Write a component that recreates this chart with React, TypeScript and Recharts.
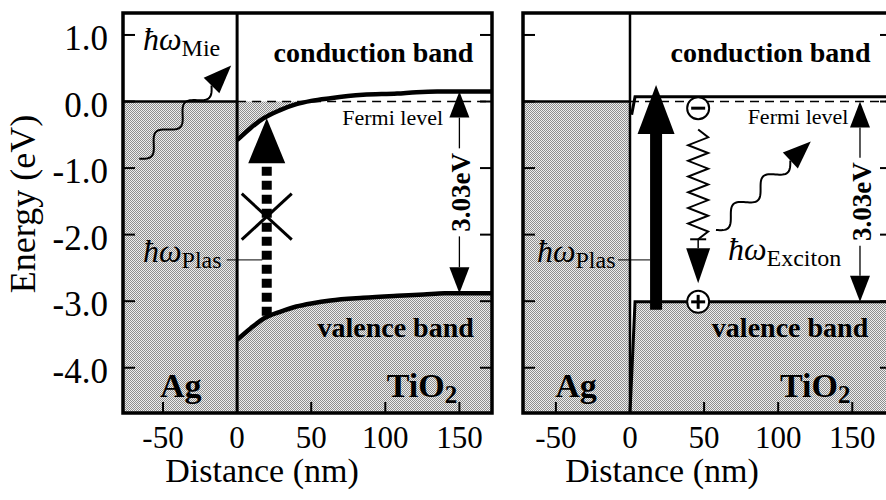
import React from 'react'
import {
  ComposedChart, XAxis, YAxis, Area, Line, ReferenceArea, ReferenceLine, ReferenceDot,
} from 'recharts'

const SERIF = 'Liberation Serif'
const INK = '#000'
const GRAY = 'url(#halftone)'

const ENERGY_TICKS = [1, 0, -1, -2, -3, -4]
const DISTANCE_TICKS = [-50, 0, 50, 100, 150]
const E_MIN = -4.68
const E_MAX = 1.33
const LEFT_RANGE = [-77, 172]
const RIGHT_RANGE = [-72.2, 176.8]

// left panel: TiO2 bands bent at the Ag contact (eV vs nm)
const LEFT_CB = [
  { x: 0, e: -0.58 }, { x: 9, e: -0.4 }, { x: 18, e: -0.25 }, { x: 29, e: -0.13 },
  { x: 40, e: -0.04 }, { x: 50, e: 0.01 }, { x: 63, e: 0.05 }, { x: 85, e: 0.1 },
  { x: 108, e: 0.12 }, { x: 121, e: 0.14 }, { x: 135, e: 0.15 }, { x: 172, e: 0.15 },
]
const LEFT_VB = [
  { x: 0, e: -3.58 }, { x: 9, e: -3.41 }, { x: 18, e: -3.26 }, { x: 29, e: -3.16 },
  { x: 40, e: -3.08 }, { x: 51, e: -3.03 }, { x: 63, e: -2.99 }, { x: 85, e: -2.95 },
  { x: 108, e: -2.92 }, { x: 126, e: -2.9 }, { x: 140, e: -2.88 }, { x: 172, e: -2.88 },
]
// part of the bent conduction band lying under the Fermi level
const LEFT_CB_FILLED = [
  { x: 0, band: [-0.58, 0] }, { x: 9, band: [-0.4, 0] }, { x: 18, band: [-0.25, 0] },
  { x: 29, band: [-0.13, 0] }, { x: 40, band: [-0.04, 0] }, { x: 48, band: [0, 0] },
]
// right panel: flat bands
const RIGHT_CB = [{ x: 1.1, e: -0.2 }, { x: 3.4, e: 0.07 }, { x: 176.8, e: 0.07 }]
const RIGHT_VB = [{ x: 0, e: -4.68 }, { x: 3.4, e: -3.01 }, { x: 176.8, e: -3.01 }]

const font = (size: number, extra: React.CSSProperties = {}) => ({ fontFamily: SERIF, fontSize: size, ...extra })

function XTick(props: any) {
  const { x, y, payload } = props
  return (
    <g>
      <line x1={x} x2={x} y1={y} y2={y - 11} stroke={INK} strokeWidth={2} />
      <text x={x} y={y + 35} textAnchor="middle" style={font(31)} fill={INK}>
        {payload.value}
      </text>
    </g>
  )
}

function YTick(props: any) {
  const { x, y, payload, side, labels } = props
  const dir = side === 'left' ? 1 : -1
  return (
    <g>
      <line x1={x} x2={x + dir * 12} y1={y} y2={y} stroke={INK} strokeWidth={2} />
      {labels && (
        <text x={x - 15} y={y + 15} textAnchor="end" style={font(35)} fill={INK}>
          {Number(payload.value).toFixed(1)}
        </text>
      )}
    </g>
  )
}

const energyTitle = (p: any) => {
  const vb = p.viewBox ?? { x: 0, y: 13, width: 123, height: 400 }
  return (
    <text transform={`translate(${vb.x + 35} ${vb.y + vb.height / 2 - 9}) rotate(-90)`}
      textAnchor="middle" style={font(36)} fill={INK}>Energy (eV)</text>
  )
}

const distanceTitle = (p: any) => {
  const vb = p.viewBox ?? { x: 123, y: 413, width: 369, height: 87 }
  return (
    <text x={vb.x + 139} y={vb.y + 69} textAnchor="middle" style={font(34)} fill={INK}>
      Distance (nm)
    </text>
  )
}

// halftone fill used for the filled states
const halftoneDefs = () => (
  <defs>
    <pattern id="halftone" width="2" height="2" patternUnits="userSpaceOnUse">
      <rect width="2" height="2" fill="#eeeeee" />
      <rect x="0" y="0" width="1" height="1" fill="#8e8e8e" />
      <rect x="1" y="1" width="1" height="1" fill="#8e8e8e" />
    </pattern>
  </defs>
)

// vertical arrow, tip at the second point of the segment
const arrowShape = (shaft: number, headL: number, headW: number, dash?: string) => (p: any) => {
  const { x1, y1, x2, y2 } = p
  const dir = y2 < y1 ? 1 : -1
  const baseY = y2 + dir * headL
  return (
    <g>
      <line x1={x1} y1={y1} x2={x1} y2={baseY} stroke={INK} strokeWidth={shaft} strokeDasharray={dash} />
      <polygon points={`${x2},${y2} ${x2 - headW / 2},${baseY} ${x2 + headW / 2},${baseY}`} fill={INK} />
    </g>
  )
}

// double headed gap arrow with rotated label in the middle
const gapArrowShape = (label: string) => (p: any) => {
  const { x1, y1, y2 } = p
  const mid = (y1 + y2) / 2
  const hl = 26
  const hw = 10
  return (
    <g>
      <line x1={x1} x2={x1} y1={y2 + hl} y2={mid - 44} stroke={INK} strokeWidth={1.3} />
      <line x1={x1} x2={x1} y1={mid + 44} y2={y1 - hl} stroke={INK} strokeWidth={1.3} />
      <polygon points={`${x1},${y2} ${x1 - hw},${y2 + hl} ${x1 + hw},${y2 + hl}`} fill={INK} />
      <polygon points={`${x1},${y1} ${x1 - hw},${y1 - hl} ${x1 + hw},${y1 - hl}`} fill={INK} />
      <text transform={`translate(${x1 + 2} ${mid}) rotate(-90)`} textAnchor="middle" dominantBaseline="central"
        style={font(27, { fontWeight: 'bold' })} fill={INK}>{label}</text>
    </g>
  )
}

// photon: wavy line ending in an arrow head
const wavyShape = (periods: number, amp: number) => (p: any) => {
  const { x1, y1, x2, y2 } = p
  const headL = 28
  const headW = 22
  const dx = x2 - x1
  const dy = y2 - y1
  const len = Math.hypot(dx, dy)
  const ux = dx / len
  const uy = dy / len
  const nx = -uy
  const ny = ux
  const run = len - headL
  let d = ''
  for (let i = 0; i <= 80; i++) {
    const t = (i / 80) * run
    const off = amp * Math.sin((2 * Math.PI * periods * t) / run)
    d += `${i ? 'L' : 'M'}${x1 + ux * t + nx * off},${y1 + uy * t + ny * off}`
  }
  const bx = x2 - ux * headL
  const by = y2 - uy * headL
  return (
    <g>
      <path d={d} fill="none" stroke={INK} strokeWidth={2} />
      <polygon fill={INK} points={`${x2},${y2} ${bx + (nx * headW) / 2},${by + (ny * headW) / 2} ${bx - (nx * headW) / 2},${by - (ny * headW) / 2}`} />
    </g>
  )
}

// phonon relaxation: zigzag ending in a short bar
const zigzagShape = (teeth: number, amp: number) => (p: any) => {
  const { x1, y1, y2 } = p
  const n = teeth * 2
  let d = ''
  for (let i = 0; i <= n; i++) {
    const y = y1 + ((y2 - y1) * i) / n
    const x = i === 0 || i === n ? x1 : x1 + (i % 2 ? amp : -amp)
    d += `${i ? 'L' : 'M'}${x},${y}`
  }
  return (
    <g>
      <path d={d} fill="none" stroke={INK} strokeWidth={2} />
      <line x1={x1 - 8} x2={x1 + 8} y1={y2} y2={y2} stroke={INK} strokeWidth={2} />
    </g>
  )
}

const crossShape = (p: any) => {
  const { cx, cy } = p
  return (
    <g stroke={INK} strokeWidth={3}>
      <line x1={cx - 25} y1={cy - 23} x2={cx + 25} y2={cy + 23} />
      <line x1={cx - 25} y1={cy + 23} x2={cx + 25} y2={cy - 23} />
    </g>
  )
}

const chargeShape = (plus: boolean) => (p: any) => {
  const { cx, cy } = p
  return (
    <g>
      <circle cx={cx} cy={cy} r={11} fill="#fff" stroke={INK} strokeWidth={2} />
      <line x1={cx - 7} x2={cx + 7} y1={cy} y2={cy} stroke={INK} strokeWidth={3} />
      {plus && <line x1={cx} x2={cx} y1={cy - 7} y2={cy + 7} stroke={INK} strokeWidth={3} />}
    </g>
  )
}

const textShape = (content: React.ReactNode, anchor = 'middle', size = 28, bold = true) => (p: any) => (
  <text x={p.cx} y={p.cy} textAnchor={anchor} fill={INK}
    style={font(size, { fontWeight: bold ? 'bold' : 'normal' })}>{content}</text>
)

const hbar = (sub: string) => (
  <>
    <tspan style={{ fontStyle: 'italic', fontSize: 32 }}>ħω</tspan>
    <tspan style={{ fontSize: 24 }} dy={6}>{sub}</tspan>
  </>
)
const tio2 = (
  <>
    <tspan>TiO</tspan>
    <tspan style={{ fontSize: 25 }} dy={6}>2</tspan>
  </>
)

function axes(range: number[], yLabels: boolean) {
  return [
    <XAxis key="x" type="number" dataKey="x" domain={range} ticks={DISTANCE_TICKS} interval={0}
      allowDataOverflow tickSize={0} tickMargin={0} axisLine={false} tickLine={false}
      tick={<XTick />} height={87} label={distanceTitle} />,
    <YAxis key="yl" type="number" domain={[E_MIN, E_MAX]} ticks={ENERGY_TICKS} interval={0}
      allowDataOverflow tickSize={0} tickMargin={0} axisLine={false} tickLine={false}
      tick={<YTick side="left" labels={yLabels} />} width={yLabels ? 123 : 23}
      label={yLabels ? energyTitle : undefined} />,
    <YAxis key="yr" yAxisId="r" orientation="right" type="number" domain={[E_MIN, E_MAX]}
      ticks={ENERGY_TICKS} interval={0} allowDataOverflow tickSize={0} tickMargin={0}
      axisLine={false} tickLine={false} tick={<YTick side="right" />} width={8} />,
  ]
}

function LeftPanel() {
  return (
    <ComposedChart width={500} height={500} margin={{ top: 13, right: 0, bottom: 0, left: 0 }}>
      {axes(LEFT_RANGE, true)}
      <ReferenceDot x={0} y={0} shape={halftoneDefs} />
      <ReferenceArea x1={LEFT_RANGE[0]} x2={0} y1={E_MIN} y2={0} fill={GRAY} fillOpacity={1} stroke="none" />
      <Area data={LEFT_VB} dataKey="e" type="monotone" baseValue={E_MIN} fill={GRAY} fillOpacity={1}
        stroke="none" dot={false} activeDot={false} isAnimationActive={false} />
      <Area data={LEFT_CB_FILLED} dataKey="band" type="monotone" fill={GRAY} fillOpacity={1}
        stroke="none" dot={false} activeDot={false} isAnimationActive={false} />
      <ReferenceLine segment={[{ x: 0, y: 0 }, { x: LEFT_RANGE[1], y: 0 }]} stroke={INK} strokeWidth={1.6} strokeDasharray="9 6" />
      <ReferenceLine segment={[{ x: LEFT_RANGE[0], y: 0 }, { x: 0, y: 0 }]} stroke={INK} strokeWidth={2.5} />
      <Line data={LEFT_CB} dataKey="e" type="monotone" stroke={INK} strokeWidth={4.5} dot={false}
        activeDot={false} isAnimationActive={false} />
      <Line data={LEFT_VB} dataKey="e" type="monotone" stroke={INK} strokeWidth={4.5} dot={false}
        activeDot={false} isAnimationActive={false} />
      <ReferenceLine x={0} stroke={INK} strokeWidth={3} />

      <ReferenceLine segment={[{ x: 20, y: -3.22 }, { x: 20, y: -0.25 }]} shape={arrowShape(10, 45, 37, '9 5')} />
      <ReferenceDot x={20} y={-1.73} shape={crossShape} />
      <ReferenceLine segment={[{ x: -7, y: -2.38 }, { x: 17, y: -2.38 }]} stroke={INK} strokeWidth={1} />
      <ReferenceLine segment={[{ x: -66, y: -0.86 }, { x: -4, y: 0.54 }]} shape={wavyShape(2.5, 7)} />
      <ReferenceLine segment={[{ x: 150, y: -2.88 }, { x: 150, y: 0.15 }]} shape={gapArrowShape('3.03eV')} />

      <ReferenceDot x={-63.5} y={0.77} shape={textShape(hbar('Mie'), 'start', 32, false)} />
      <ReferenceDot x={-63.5} y={-2.41} shape={textShape(hbar('Plas'), 'start', 32, false)} />
      <ReferenceDot x={92} y={0.59} shape={textShape('conduction band')} />
      <ReferenceDot x={105} y={-0.35} shape={textShape('Fermi level', 'middle', 22, false)} />
      <ReferenceDot x={107} y={-3.54} shape={textShape('valence band')} />
      <ReferenceDot x={-38} y={-4.44} shape={textShape('Ag', 'middle', 34)} />
      <ReferenceDot x={101} y={-4.44} shape={textShape(tio2, 'start', 34)} />

      <ReferenceArea x1={LEFT_RANGE[0]} x2={LEFT_RANGE[1]} y1={E_MIN} y2={E_MAX} fill="none" stroke={INK} strokeWidth={3.5} />
    </ComposedChart>
  )
}

function RightPanel() {
  return (
    <ComposedChart width={400} height={500} margin={{ top: 13, right: 0, bottom: 0, left: 0 }}>
      {axes(RIGHT_RANGE, false)}
      <ReferenceArea x1={RIGHT_RANGE[0]} x2={0} y1={E_MIN} y2={0} fill={GRAY} fillOpacity={1} stroke="none" />
      <Area data={RIGHT_VB} dataKey="e" type="linear" baseValue={E_MIN} fill={GRAY} fillOpacity={1}
        stroke="none" dot={false} activeDot={false} isAnimationActive={false} />
      <ReferenceLine segment={[{ x: 0, y: 0 }, { x: RIGHT_RANGE[1], y: 0 }]} stroke={INK} strokeWidth={1.6} strokeDasharray="9 6" />
      <ReferenceLine segment={[{ x: RIGHT_RANGE[0], y: 0 }, { x: 0, y: 0 }]} stroke={INK} strokeWidth={2.5} />
      <Line data={RIGHT_CB} dataKey="e" type="linear" stroke={INK} strokeWidth={3} dot={false}
        activeDot={false} isAnimationActive={false} />
      <Line data={RIGHT_VB} dataKey="e" type="linear" stroke={INK} strokeWidth={3} dot={false}
        activeDot={false} isAnimationActive={false} />
      <ReferenceLine x={0} stroke={INK} strokeWidth={2.5} />

      <ReferenceLine segment={[{ x: 17.6, y: -3.13 }, { x: 17.6, y: 0.25 }]} shape={arrowShape(12, 49, 37)} />
      <ReferenceLine segment={[{ x: -8, y: -2.38 }, { x: 13.5, y: -2.38 }]} stroke={INK} strokeWidth={1} />
      <ReferenceLine segment={[{ x: 46, y: -0.42 }, { x: 46, y: -2.07 }]} shape={zigzagShape(7, 10)} />
      <ReferenceLine segment={[{ x: 46, y: -2.07 }, { x: 46, y: -2.73 }]} shape={arrowShape(1.5, 35, 24)} />
      <ReferenceLine segment={[{ x: 58, y: -1.93 }, { x: 122, y: -0.6 }]} shape={wavyShape(2.5, 7)} />
      <ReferenceLine segment={[{ x: 155.2, y: -3.01 }, { x: 155.2, y: 0 }]} shape={gapArrowShape('3.03eV')} />
      <ReferenceDot x={46} y={-0.1} shape={chargeShape(false)} />
      <ReferenceDot x={46} y={-3.01} shape={chargeShape(true)} />

      <ReferenceDot x={-62.8} y={-2.41} shape={textShape(hbar('Plas'), 'start', 32, false)} />
      <ReferenceDot x={66.1} y={-2.38} shape={textShape(hbar('Exciton'), 'start', 32, false)} />
      <ReferenceDot x={94.8} y={0.59} shape={textShape('conduction band')} />
      <ReferenceDot x={113.4} y={-0.34} shape={textShape('Fermi level', 'middle', 22, false)} />
      <ReferenceDot x={108} y={-3.54} shape={textShape('valence band')} />
      <ReferenceDot x={-36.4} y={-4.44} shape={textShape('Ag', 'middle', 34)} />
      <ReferenceDot x={101.2} y={-4.44} shape={textShape(tio2, 'start', 34)} />

      <ReferenceArea x1={RIGHT_RANGE[0]} x2={RIGHT_RANGE[1]} y1={E_MIN} y2={E_MAX} fill="none" stroke={INK} strokeWidth={3.5} />
    </ComposedChart>
  )
}

export default function App() {
  return (
    <div style={{ position: 'absolute', left: 0, top: 0, width: 886, height: 500, overflow: 'hidden', background: '#fff', fontFamily: SERIF }}>
      <div style={{ position: 'absolute', left: 0, top: 0 }}>
        <LeftPanel />
      </div>
      <div style={{ position: 'absolute', left: 500, top: 0 }}>
        <RightPanel />
      </div>
    </div>
  )
}
